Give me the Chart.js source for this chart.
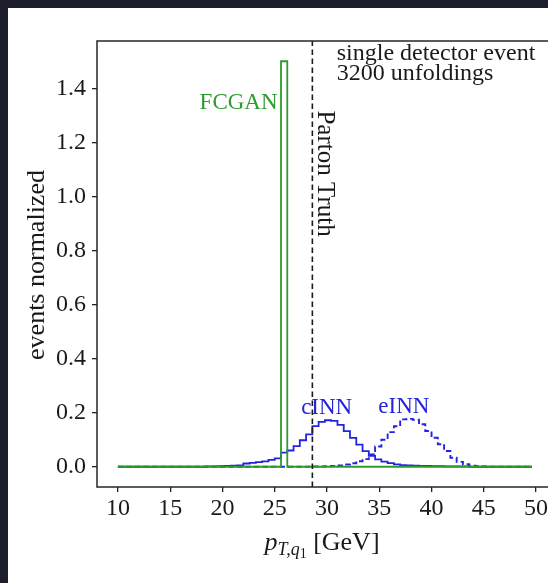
<!DOCTYPE html>
<html><head><meta charset="utf-8">
<script src="https://cdn.jsdelivr.net/npm/chart.js@4"></script>
<style>
html,body{margin:0;padding:0;width:548px;height:583px;overflow:hidden;background:#1c1f2b;}
#wrap{position:absolute;left:8px;top:8px;width:540px;height:575px;background:#fff;overflow:hidden;}
canvas{position:absolute;left:-8px;top:-8px;}
</style></head><body>
<div id="wrap"><canvas id="c" width="600" height="583"></canvas></div>
<script>
// ---- data ----
const binEdges = [10,10.6,11.2,11.8,12.4,13,13.6,14.2,14.8,15.4,16,16.6,17.2,17.8,18.4,19,19.6,20.2,20.8,21.4,22,22.6,23.2,23.8,24.4,25,25.6,26.2,26.8,27.4,28,28.6,29.2,29.8,30.4,31,31.6,32.2,32.8,33.4,34,34.6,35.2,35.8,36.4,37,37.6,38.2,38.8,39.4,40,40.6,41.2,41.8,42.4,43,43.6,44.2,44.8,45.4,46,46.6,47.2,47.8,48.4,49,49.6];
const cINN = [0,0,0,0,0,0,0,0,0,0,0,0,0,0,0.001,0.001,0.002,0.003,0.004,0.005,0.012,0.014,0.017,0.020,0.025,0.031,0.052,0.060,0.076,0.098,0.120,0.150,0.166,0.172,0.170,0.155,0.132,0.107,0.082,0.058,0.040,0.027,0.019,0.013,0.009,0.006,0.005,0.004,0.003,0.003,0.002,0.002,0.001,0.001,0.001,0.001,0,0,0,0,0,0,0,0,0,0];
const eINN = [0,0,0,0,0,0,0,0,0,0,0,0,0,0,0,0,0,0,0,0,0,0,0,0,0,0,0,0,0,0,0,0.001,0.001,0.002,0.003,0.005,0.008,0.013,0.020,0.028,0.045,0.075,0.100,0.128,0.150,0.175,0.177,0.174,0.157,0.132,0.107,0.083,0.058,0.033,0.018,0.009,0.004,0.002,0.001,0,0,0,0,0,0,0];
const FCGAN = [0,0,0,0,0,0,0,0,0,0,0,0,0,0,0,0,0,0,0,0,0,0,0,0,0,0,1.5,0,0,0,0,0,0,0,0,0,0,0,0,0,0,0,0,0,0,0,0,0,0,0,0,0,0,0,0,0,0,0,0,0,0,0,0,0,0,0];
const partonTruth = 28.6;
const xTicks = [10,15,20,25,30,35,40,45,50];
const yTicks = [0,0.2,0.4,0.6,0.8,1.0,1.2,1.4];
const xRange = [8, 52];
const yRange = [-0.075, 1.575];
const seriesLabels = ['FCGAN','cINN','eINN'];
const infoLines = ['single detector event','3200 unfoldings'];

const GREEN = '#2e9b2e', BLUE = '#2424e0', INK = '#1a1a1a';
const SERIF = '"Liberation Serif", "DejaVu Serif", serif';

function stepPoints(edges, vals){
  const pts=[{x:edges[0],y:0}];
  for(let i=0;i<vals.length;i++){pts.push({x:edges[i],y:vals[i]});pts.push({x:edges[i+1],y:vals[i]});}
  pts.push({x:edges[edges.length-1],y:0});
  return pts;
}

const textPlugin = {
  id:'texts',
  afterDatasetsDraw(chart){
    const {ctx, chartArea:a} = chart;
    ctx.save();
    ctx.strokeStyle = '#262626'; ctx.lineWidth = 1.5;
    ctx.strokeRect(a.left, a.top, a.right-a.left, a.bottom-a.top);
    ctx.restore();
  },
  afterDraw(chart){
    const {ctx, scales:{x,y}} = chart;
    ctx.save();
    ctx.font = '23px '+SERIF;
    ctx.textBaseline = 'middle';
    // FCGAN
    ctx.fillStyle = GREEN; ctx.textAlign = 'right';
    ctx.fillText(seriesLabels[0], x.getPixelForValue(25.27), y.getPixelForValue(1.345));
    // cINN / eINN
    ctx.fillStyle = BLUE; ctx.textAlign = 'center';
    ctx.fillText(seriesLabels[1], x.getPixelForValue(29.97), y.getPixelForValue(0.218));
    ctx.fillText(seriesLabels[2], x.getPixelForValue(37.35), y.getPixelForValue(0.222));
    // Parton Truth rotated
    ctx.fillStyle = INK;
    ctx.save();
    ctx.font = '25px '+SERIF;
    ctx.translate(x.getPixelForValue(29.8), y.getPixelForValue(1.318));
    ctx.rotate(Math.PI/2);
    ctx.textAlign='left';
    ctx.fillText('Parton Truth', 0, 0);
    ctx.restore();
    // info text
    ctx.font = '24px '+SERIF;
    ctx.textAlign='left';
    ctx.fillText(infoLines[0], x.getPixelForValue(30.93), 54);
    ctx.fillText(infoLines[1], x.getPixelForValue(30.93), 74);
    // y label
    ctx.save();
    ctx.font = '26px '+SERIF;
    ctx.translate(37, 265);
    ctx.rotate(-Math.PI/2);
    ctx.textAlign='center';
    ctx.fillText('events normalized', 0, 0);
    ctx.restore();
    // x label p_{T,q_1} [GeV]
    const base = 550;
    const parts = [
      {t:'p', f:'italic 26px '+SERIF, dy:0},
      {t:'T,q', f:'italic 18px '+SERIF, dy:5},
      {t:'1', f:'14px '+SERIF, dy:8},
      {t:' [GeV]', f:'26px '+SERIF, dy:0}
    ];
    ctx.textBaseline='alphabetic'; ctx.textAlign='left';
    let total=0;
    parts.forEach(p=>{ctx.font=p.f; p.w=ctx.measureText(p.t).width; total+=p.w;});
    let cx = 322 - total/2;
    parts.forEach(p=>{ctx.font=p.f; ctx.fillText(p.t, cx, base+p.dy); cx+=p.w;});
    ctx.restore();
  }
};

new Chart(document.getElementById('c'), {
  type:'line',
  data:{datasets:[
    {label:'Parton Truth', data:[{x:partonTruth,y:yRange[0]},{x:partonTruth,y:yRange[1]}], borderColor:INK, borderWidth:1.6, borderDash:[5.5,3.5]},
    {label:'FCGAN', data:stepPoints(binEdges,FCGAN), borderColor:GREEN, borderWidth:1.8},
    {label:'cINN', data:stepPoints(binEdges,cINN), borderColor:BLUE, borderWidth:1.8},
    {label:'eINN', data:stepPoints(binEdges,eINN), borderColor:BLUE, borderWidth:1.9, borderDash:[5.5,3]}
  ]},
  options:{
    responsive:false, animation:false, parsing:true,
    layout:{padding:{left:0,top:41,right:43,bottom:36}},
    plugins:{legend:{display:false}, tooltip:{enabled:false}},
    elements:{point:{radius:0}, line:{tension:0, fill:false}},
    scales:{
      x:{type:'linear', min:xRange[0], max:xRange[1],
        afterBuildTicks:s=>{s.ticks=xTicks.map(v=>({value:v}));},
        afterFit:s=>{s.height=60;},
        grid:{drawOnChartArea:false, drawTicks:true, tickLength:5, color:'#222', lineWidth:1.3},
        border:{display:false},
        ticks:{font:{family:SERIF,size:24}, color:INK, padding:2, maxRotation:0, autoSkip:false, callback:v=>String(v)}},
      y:{type:'linear', min:yRange[0], max:yRange[1],
        afterBuildTicks:s=>{s.ticks=yTicks.map(v=>({value:v}));},
        afterFit:s=>{s.width=97;},
        grid:{drawOnChartArea:false, drawTicks:true, tickLength:5, color:'#222', lineWidth:1.3},
        border:{display:false},
        ticks:{font:{family:SERIF,size:24}, color:INK, padding:6, autoSkip:false, callback:v=>v.toFixed(1)}}
    }
  },
  plugins:[textPlugin]
});
</script>
</body></html>
